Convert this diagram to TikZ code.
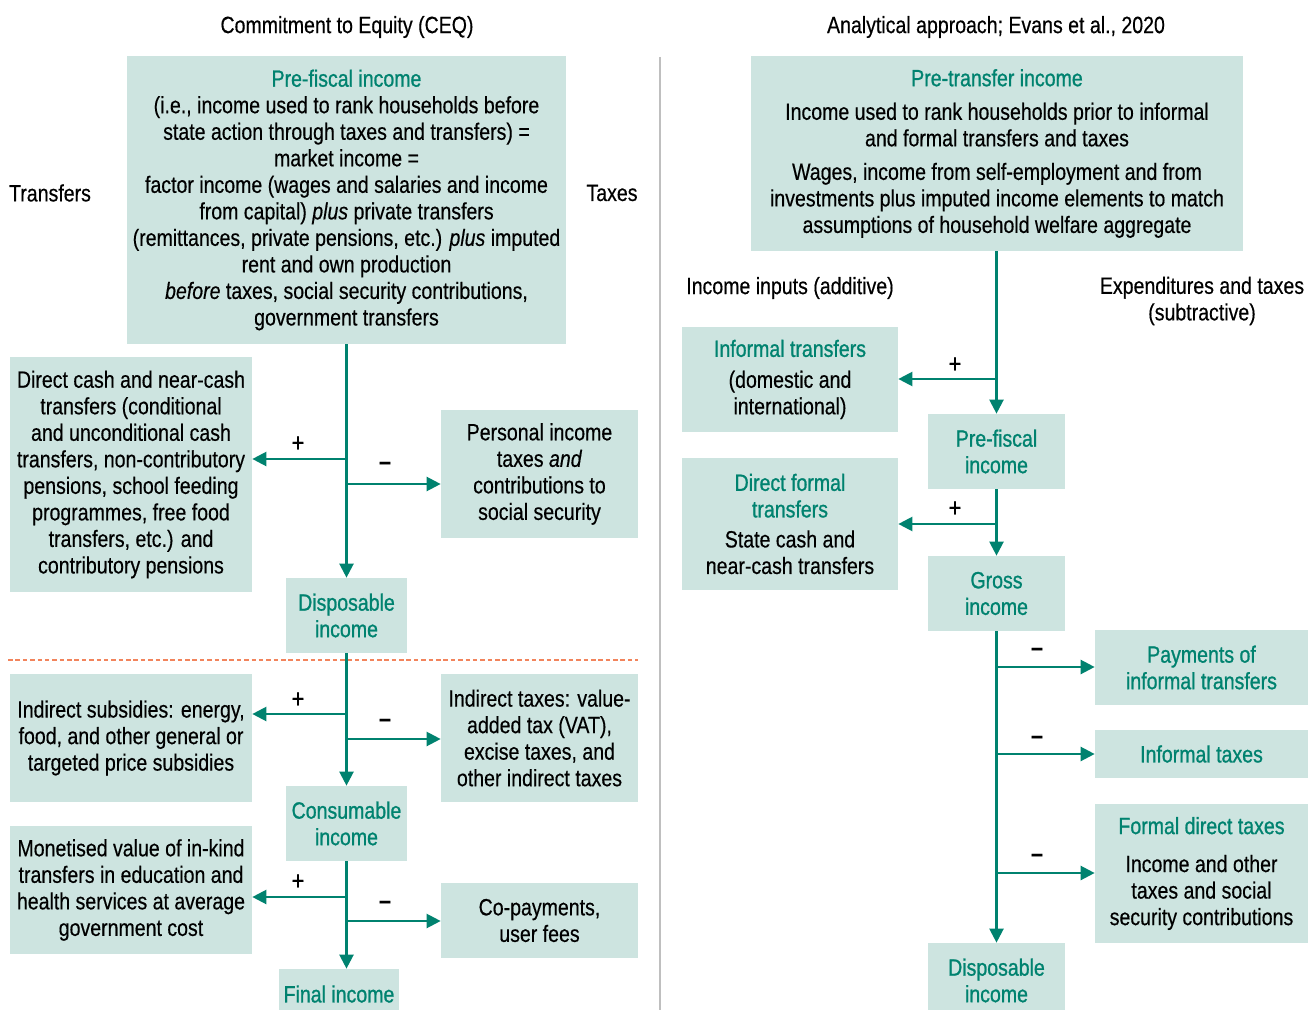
\documentclass[tikz,border=0pt]{standalone}
\usepackage{fontspec}
\setmainfont{Liberation Sans}[FakeStretch=0.83,FakeBold=0.4]
\newfontfamily\hdfont{Liberation Sans}[FakeStretch=0.83,FakeBold=0.9]
\usepackage{tikz}
\usetikzlibrary{arrows.meta}
\usepackage{xcolor}
\definecolor{ceqteal}{HTML}{00826F}
\definecolor{boxfill}{HTML}{CDE4E0}
\definecolor{dashorange}{HTML}{F2845C}
\newcommand{\hd}[1]{{\hdfont\color{ceqteal}#1}}

\begin{document}
\begin{tikzpicture}[x=0.02cm,y=-0.02cm,>={Triangle[length=2.8mm,width=2.8mm]},
  every node/.style={font=\fontsize{13.4}{15.1}\selectfont},
  box/.style={fill=boxfill,inner sep=0pt,align=center},
  sz/.style 2 args={minimum width=#1cm,minimum height=#2cm},
  flow/.style={draw=ceqteal,line width=1.3pt,->},
  sign/.style={inner sep=0pt,font=\fontsize{15}{15}\selectfont}]
\useasboundingbox (0,0) rectangle (1308,1010);
\node (hl) at (347,27) {Commitment to Equity (CEQ)};
\node (hr) at (996,27) {Analytical approach; Evans et al., 2020};
\node (trf) at (50,193) {Transfers};
\node (txs) at (612,193) {Taxes};
\node (inl) at (790,288) {Income inputs (additive)};
\node[align=center] (exl) at (1202,301) {Expenditures and taxes\\(subtractive)};

\node[box,sz={8.78}{5.76}] (pfl) at (346.5,200) {\hd{Pre-fiscal income}\\
  (i.e., income used to rank households before\\
  state action through taxes and transfers) =\\
  market income =\\
  factor income (wages and salaries and income\\
  from capital) \textit{plus} private transfers\\
  (remittances, private pensions, etc.) \textit{plus} imputed\\
  rent and own production\\
  \textit{before} taxes, social security contributions,\\
  government transfers};
\node[box,sz={4.84}{4.70}] (dcash) at (131,474.5) {Direct cash and near-cash\\
  transfers (conditional\\and unconditional cash\\transfers, non-contributory\\
  pensions, school feeding\\programmes, free food\\transfers, etc.) and\\contributory pensions};
\node[box,sz={3.94}{2.56}] (pit) at (539.5,474) {Personal income\\taxes \textit{and}\\contributions to\\social security};
\node[box,sz={2.42}{1.50}] (displ) at (346.5,615.5) {\hd{Disposable}\\\hd{income}};
\node[box,sz={4.84}{2.56}] (isub) at (131,738) {Indirect subsidies: energy,\\food, and other general or\\targeted price subsidies};
\node[box,sz={3.94}{2.56}] (itax) at (539.5,738) {Indirect taxes: value-\\added tax (VAT),\\excise taxes, and\\other indirect taxes};
\node[box,sz={2.42}{1.50}] (cons) at (346.5,823.5) {\hd{Consumable}\\\hd{income}};
\node[box,sz={4.84}{2.56}] (kind) at (131,890) {Monetised value of in-kind\\transfers in education and\\health services at average\\government cost};
\node[box,sz={3.94}{1.50}] (copay) at (539.5,920.5) {Co-payments,\\user fees};
\node[box,sz={2.40}{1.00}] (final) at (339,994) {\hd{Final income}};

\draw[dashorange,line width=1.3pt,dash pattern=on 2.6pt off 1.6pt] (8,660) -- (638,660);
\draw[gray!50,line width=0.8pt] (660,57) -- (660,1010);

\draw[flow] (pfl.south) -- (displ.north);
\coordinate (a1) at (346.5,459);
\coordinate (a2) at (346.5,484);
\draw[flow] (a1) -- (a1 -| dcash.east);
\draw[flow] (a2) -- (a2 -| pit.west);
\node[sign] (s1) at (298,444) {+};
\node[sign] (s2) at (385,466) {\textbf{--}};

\draw[flow] (displ.south) -- (cons.north);
\coordinate (a3) at (346.5,714);
\coordinate (a4) at (346.5,739);
\draw[flow] (a3) -- (a3 -| isub.east);
\draw[flow] (a4) -- (a4 -| itax.west);
\node[sign] (s3) at (298,700) {+};
\node[sign] (s4) at (385,723) {\textbf{--}};

\draw[flow] (cons.south) -- (cons.south |- final.north);
\coordinate (a5) at (346.5,897);
\coordinate (a6) at (346.5,921);
\draw[flow] (a5) -- (a5 -| kind.east);
\draw[flow] (a6) -- (a6 -| copay.west);
\node[sign] (s5) at (298,882) {+};
\node[sign] (s6) at (385,905) {\textbf{--}};

\node[box,sz={9.84}{3.90}] (ptr) at (997,153.5) {\hd{Pre-transfer income}\\[4pt]
  Income used to rank households prior to informal\\
  and formal transfers and taxes\\[4pt]
  Wages, income from self-employment and from\\
  investments plus imputed income elements to match\\
  assumptions of household welfare aggregate};
\node[box,sz={4.32}{2.10}] (inft) at (790,379.5) {\hd{Informal transfers}\\[2.5pt](domestic and\\international)};
\node[box,sz={2.74}{1.50}] (pfr) at (996.5,451.5) {\hd{Pre-fiscal}\\\hd{income}};
\node[box,sz={4.32}{2.64}] (dft) at (790,524) {\hd{Direct formal}\\\hd{transfers}\\[2pt]State cash and\\near-cash transfers};
\node[box,sz={2.74}{1.50}] (gross) at (996.5,593.5) {\hd{Gross}\\\hd{income}};
\node[box,sz={4.26}{1.50}] (payinf) at (1201.5,667.5) {\hd{Payments of}\\\hd{informal transfers}};
\node[box,sz={4.26}{0.96}] (inftax) at (1201.5,754) {\hd{Informal taxes}};
\node[box,sz={4.26}{2.78}] (fdt) at (1201.5,873.5) {\hd{Formal direct taxes}\\[6.5pt]Income and other\\taxes and social\\security contributions};
\node[box,sz={2.74}{1.50}] (dispr) at (996.5,980.5) {\hd{Disposable}\\\hd{income}};

\draw[flow] (pfr.north |- ptr.south) -- (pfr.north);
\coordinate (b1) at (996.5,379);
\draw[flow] (b1) -- (b1 -| inft.east);
\node[sign] (r1) at (955,365) {+};

\draw[flow] (pfr.south) -- (gross.north);
\coordinate (b2) at (996.5,524);
\draw[flow] (b2) -- (b2 -| dft.east);
\node[sign] (r2) at (955,509) {+};

\draw[flow] (gross.south) -- (dispr.north);
\coordinate (b3) at (996.5,667);
\coordinate (b4) at (996.5,754);
\coordinate (b5) at (996.5,873);
\draw[flow] (b3) -- (b3 -| payinf.west);
\draw[flow] (b4) -- (b4 -| inftax.west);
\draw[flow] (b5) -- (b5 -| fdt.west);
\node[sign] (r3) at (1037,652) {\textbf{--}};
\node[sign] (r4) at (1037,740) {\textbf{--}};
\node[sign] (r5) at (1037,858) {\textbf{--}};
\end{tikzpicture}
\end{document}
